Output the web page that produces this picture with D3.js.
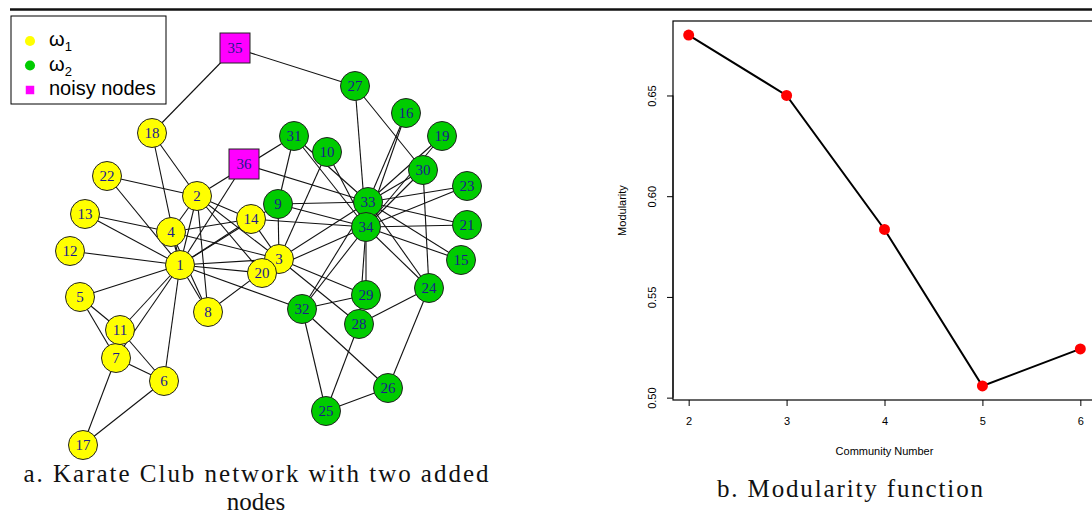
<!DOCTYPE html>
<meta charset="utf-8">
<style>
    body { margin: 0; background: #fff; }
    svg { display: block; }
    .edge { stroke: #111; stroke-width: 1.1; }
    .node { stroke: #222; stroke-width: 1; }
    .vlabel { font: 15px "Liberation Serif", serif; fill: #1a1a8c; text-anchor: middle; }
    .caption { font-family: "Liberation Serif", serif; font-size: 25px; fill: #111; text-anchor: middle; }
    .axis text { font: 11px "Liberation Sans", Arial, sans-serif; fill: #000; }
    .axis path, .axis line { stroke: #000; }
</style>
<body>
<script src="https://cdn.jsdelivr.net/npm/d3@7"></script>
<script>

    // ---- network (karate club + two noisy nodes) ----
    var nodeIds = d3.range(1, 37);
    // 1 = omega1, 2 = omega2, 0 = noisy
    var groups = [1,1,1,1,1,1,1,1,2,2,1,1,1,1,2,2,1,1,2,1,2,1,2,2,2,2,2,2,2,2,2,2,2,2,0,0];
    // layout coordinates
    var layoutX = [110,127,209,101,10,94,46,138,208,257,50,0,15,181,391,336,13,82,372,192,397,37,397,359,256,318,285,289,296,353,224,232,298,296,165,174];
    var layoutY = [217,148,211,184,249,333,310,264,156,104,282,203,166,171,212,65,397,85,88,225,177,128,138,240,363,340,38,276,247,122,88,261,154,179,0,116];
    var edges = [
        [1,2],[1,3],[1,4],[1,5],[1,6],[1,7],[1,8],[1,9],[1,11],[1,12],[1,13],[1,14],[1,18],[1,20],[1,22],[1,32],
        [2,3],[2,4],[2,8],[2,14],[2,18],[2,20],[2,22],[2,31],
        [3,4],[3,8],[3,9],[3,10],[3,14],[3,28],[3,29],[3,33],
        [4,8],[4,13],[4,14],
        [5,7],[5,11],
        [6,7],[6,11],[6,17],
        [7,17],
        [9,31],[9,33],[9,34],
        [10,34],
        [14,34],
        [15,33],[15,34],
        [16,33],[16,34],
        [19,33],[19,34],
        [20,34],
        [21,33],[21,34],
        [23,33],[23,34],
        [24,26],[24,28],[24,30],[24,33],[24,34],
        [25,26],[25,28],[25,32],
        [26,32],
        [27,30],[27,34],
        [28,34],
        [29,32],[29,34],
        [30,33],[30,34],
        [31,33],[31,34],
        [32,33],[32,34],
        [33,34],
        [35,18],[35,27],[36,1],[36,33]
    ];
    var legendLabels = ["\u03c9", "\u03c9", "noisy nodes"];
    var legendSubs = ["1", "2", ""];

    // ---- modularity ----
    var communities = [2, 3, 4, 5, 6];
    var modularity = [0.680, 0.650, 0.5835, 0.5058, 0.5242];
    var yTicks = [0.50, 0.55, 0.60, 0.65];

    var groupColor = {1: "#ffff00", 2: "#00cc00", 0: "#ff00ff"};

    var svg = d3.select("body").append("svg")
            .attr("width", 1092)
            .attr("height", 517);

    // top rule
    svg.append("line")
            .attr("x1", 10).attr("x2", 1092)
            .attr("y1", 9.5).attr("y2", 9.5)
            .attr("stroke", "#111")
            .attr("stroke-width", 2.5);

    // ---------- panel a ----------
    var nx = d3.scaleLinear().domain([0, 397]).range([70, 467]);
    var ny = d3.scaleLinear().domain([0, 397]).range([48, 445]);

    var nodes = nodeIds.map(function(id, i) {
        return {id: id, group: groups[i], x: nx(layoutX[i]), y: ny(layoutY[i])};
    });

    var gNet = svg.append("g");

    gNet.selectAll("line.edge")
            .data(edges)
            .enter().append("line")
            .attr("class", "edge")
            .attr("x1", function(d) { return nodes[d[0] - 1].x; })
            .attr("y1", function(d) { return nodes[d[0] - 1].y; })
            .attr("x2", function(d) { return nodes[d[1] - 1].x; })
            .attr("y2", function(d) { return nodes[d[1] - 1].y; });

    var r = 14.5, sq = 30;

    gNet.selectAll("circle.node")
            .data(nodes.filter(function(d) { return d.group !== 0; }))
            .enter().append("circle")
            .attr("class", "node")
            .attr("cx", function(d) { return d.x; })
            .attr("cy", function(d) { return d.y; })
            .attr("r", r)
            .attr("fill", function(d) { return groupColor[d.group]; });

    gNet.selectAll("rect.node")
            .data(nodes.filter(function(d) { return d.group === 0; }))
            .enter().append("rect")
            .attr("class", "node")
            .attr("x", function(d) { return d.x - sq / 2; })
            .attr("y", function(d) { return d.y - sq / 2; })
            .attr("width", sq)
            .attr("height", sq)
            .attr("fill", groupColor[0]);

    gNet.selectAll("text.vlabel")
            .data(nodes)
            .enter().append("text")
            .attr("class", "vlabel")
            .attr("x", function(d) { return d.x; })
            .attr("y", function(d) { return d.y + 5; })
            .text(function(d) { return d.id; });

    // legend
    var legend = svg.append("g").attr("transform", "translate(11,16)");
    legend.append("rect")
            .attr("width", 155).attr("height", 88)
            .attr("fill", "#fff").attr("stroke", "#000").attr("stroke-width", 1);
    var legendColors = [groupColor[1], groupColor[2], groupColor[0]];
    var li = legend.selectAll("g.item")
            .data(legendLabels)
            .enter().append("g")
            .attr("transform", function(d, i) { return "translate(0," + (25 + i * 24.5) + ")"; });
    li.append("path")
            .attr("transform", "translate(19,0)")
            .attr("d", function(d, i) {
                return i < 2 ? d3.symbol(d3.symbolCircle, 80)() : d3.symbol(d3.symbolSquare, 72)();
            })
            .attr("fill", function(d, i) { return legendColors[i]; });
    var lt = li.append("text")
            .attr("x", 38)
            .attr("y", 5)
            .style("font", "20px 'Liberation Sans', Arial, sans-serif")
            .style("fill", "#000");
    lt.append("tspan").text(function(d) { return d; });
    lt.append("tspan")
            .attr("dy", 5)
            .style("font-size", "13px")
            .text(function(d, i) { return legendSubs[i]; });

    svg.append("text").attr("class", "caption")
            .attr("x", 256).attr("y", 482)
            .attr("textLength", 465).attr("lengthAdjust", "spacing")
            .text("a.  Karate Club network with two added");
    svg.append("text").attr("class", "caption")
            .attr("x", 256).attr("y", 510)
            .text("nodes");

    // ---------- panel b ----------
    var ext = d3.extent(modularity), pad = (ext[1] - ext[0]) * 0.04;
    var x = d3.scaleLinear().domain([1.84, 6.16]).range([673, 1096]);
    var y = d3.scaleLinear().domain([ext[0] - pad, ext[1] + pad]).range([400, 21]);

    svg.append("rect")
            .attr("x", x.range()[0]).attr("y", y.range()[1])
            .attr("width", x.range()[1] - x.range()[0])
            .attr("height", y.range()[0] - y.range()[1])
            .attr("fill", "none").attr("stroke", "#000").attr("stroke-width", 1.2);

    var xAxis = d3.axisBottom(x).tickValues(communities).tickSize(6).tickSizeOuter(0).tickFormat(d3.format("d"));
    var yAxis = d3.axisLeft(y).tickValues(yTicks).tickSize(6).tickSizeOuter(0).tickFormat(d3.format(".2f"));

    var gx = svg.append("g").attr("class", "x axis")
            .attr("transform", "translate(0," + y.range()[0] + ")")
            .call(xAxis);
    gx.select(".domain").remove();
    gx.selectAll("text").attr("y", 17);

    var gy = svg.append("g").attr("class", "y axis")
            .attr("transform", "translate(" + x.range()[0] + ",0)")
            .call(yAxis);
    gy.select(".domain")
            .attr("d", "M0," + y(yTicks[0]) + "V" + y(yTicks[yTicks.length - 1]));
    gy.selectAll(".tick text")
            .attr("transform", "rotate(-90)")
            .attr("x", 0).attr("y", -17).attr("dy", 0)
            .style("text-anchor", "middle");

    svg.append("text").attr("class", "axis")
            .attr("x", x(4)).attr("y", 455)
            .style("text-anchor", "middle")
            .style("font", "11px 'Liberation Sans', Arial, sans-serif")
            .text("Community Number");
    svg.append("text")
            .attr("transform", "translate(626," + ((y.range()[0] + y.range()[1]) / 2) + ") rotate(-90)")
            .style("text-anchor", "middle")
            .style("font", "11px 'Liberation Sans', Arial, sans-serif")
            .text("Modularity");

    var line = d3.line()
            .x(function(d, i) { return x(communities[i]); })
            .y(function(d) { return y(d); });

    svg.append("path")
            .datum(modularity)
            .attr("d", line)
            .attr("fill", "none")
            .attr("stroke", "#000")
            .attr("stroke-width", 2);

    svg.selectAll("circle.pt")
            .data(modularity)
            .enter().append("circle")
            .attr("class", "pt")
            .attr("cx", function(d, i) { return x(communities[i]); })
            .attr("cy", function(d) { return y(d); })
            .attr("r", 5.5)
            .attr("fill", "#ff0000");

    svg.append("text").attr("class", "caption")
            .attr("x", 850).attr("y", 497)
            .attr("textLength", 266).attr("lengthAdjust", "spacing")
            .text("b.  Modularity function");

</script>
</body>
